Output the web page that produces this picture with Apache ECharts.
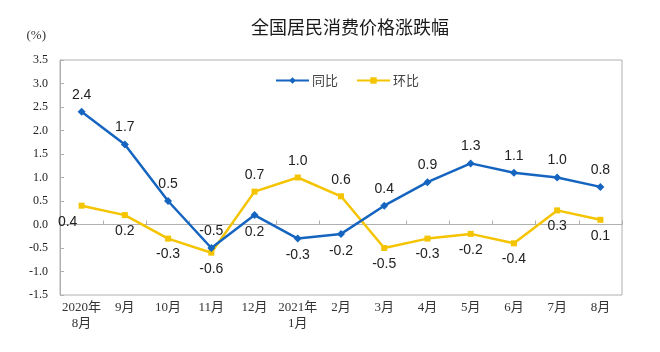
<!DOCTYPE html>
<html>
<head>
<meta charset="utf-8">
<script src="https://cdn.jsdelivr.net/npm/echarts@6/dist/echarts.min.js"></script>
<style>
  html, body { margin: 0; padding: 0; background: #fff; }
  #chart { width: 660px; height: 352px; }
</style>
</head>
<body>
<div id="chart"></div>
<script>
const months = ['2020年\n8月', '9月', '10月', '11月', '12月', '2021年\n1月', '2月', '3月', '4月', '5月', '6月', '7月', '8月']
const yoy = [2.4, 1.7, 0.5, -0.5, 0.2, -0.3, -0.2, 0.4, 0.9, 1.3, 1.1, 1.0, 0.8]
const mom = [0.4, 0.2, -0.3, -0.6, 0.7, 1.0, 0.6, -0.5, -0.3, -0.2, -0.4, 0.3, 0.1]

const chart = echarts.init(document.getElementById('chart'))

// label goes above when the point sits above the other series, below otherwise
function withLabels(values, other) {
  return values.map((v, i) => {
    const above = v > other[i]
    const item = { value: v, label: { position: above ? 'top' : 'bottom' } }
    if (i === 0 && !above) item.label.offset = [-14, 0]
    return item
  })
}

const serif = '"Liberation Serif", "Times New Roman", "Noto Sans CJK SC", serif'
const labelStyle = {
  show: true,
  fontFamily: '"Liberation Sans", Arial, sans-serif',
  fontSize: 14,
  color: '#222',
  distance: 6,
  formatter: p => p.value.toFixed(1)
}

chart.setOption({
  animation: false,
  title: {
    text: '全国居民消费价格涨跌幅',
    left: 345,
    top: 13,
    textAlign: 'center',
    textStyle: { fontFamily: '"Noto Sans CJK SC"', fontSize: 18, fontWeight: 'normal', color: '#1a1a1a' }
  },
  legend: {
    top: 69,
    left: 270,
    itemWidth: 33,
    itemHeight: 8,
    itemGap: 18,
    textStyle: { fontFamily: '"Noto Sans CJK SC"', fontSize: 13, color: '#444', padding: [0, 0, 0, -2] },
    data: ['同比', '环比']
  },
  grid: {
    left: 60,
    right: 38,
    top: 60,
    bottom: 57,
    outerBoundsMode: 'none',
    containLabel: false,
    show: true,
    borderColor: '#b0b0b0',
    borderWidth: 1
  },
  xAxis: {
    type: 'category',
    data: months,
    boundaryGap: true,
    position: 'bottom',
    axisLine: { onZero: true, lineStyle: { color: '#b0b0b0', width: 1 } },
    axisTick: { show: true, inside: true, length: 4, lineStyle: { color: '#b0b0b0' } },
    axisLabel: {
      interval: 0,
      fontFamily: serif,
      fontSize: 13,
      color: '#333',
      lineHeight: 16,
      margin: 5
    }
  },
  yAxis: {
    type: 'value',
    min: -1.5,
    max: 3.5,
    interval: 0.5,
    name: '(%)',
    nameLocation: 'end',
    nameGap: 18,
    nameTextStyle: { fontFamily: serif, fontSize: 13, color: '#333', align: 'right', padding: [0, 14, 0, 0] },
    axisLine: { show: true, lineStyle: { color: '#b0b0b0' } },
    axisTick: { show: true, inside: true, length: 4, lineStyle: { color: '#b0b0b0' } },
    splitLine: { show: false },
    axisLabel: {
      fontFamily: serif,
      fontSize: 12,
      color: '#222',
      margin: 12,
      formatter: v => v.toFixed(1)
    }
  },
  series: [
    {
      name: '同比',
      type: 'line',
      data: withLabels(yoy, mom),
      symbol: 'diamond',
      symbolSize: 8,
      lineStyle: { color: '#1565c0', width: 2.5 },
      itemStyle: { color: '#1565c0' },
      label: labelStyle,
      z: 3
    },
    {
      name: '环比',
      type: 'line',
      data: withLabels(mom, yoy),
      symbol: 'rect',
      symbolSize: 6,
      lineStyle: { color: '#f5c400', width: 2.5 },
      itemStyle: { color: '#f5c400' },
      label: labelStyle,
      z: 2
    }
  ]
})
</script>
</body>
</html>
